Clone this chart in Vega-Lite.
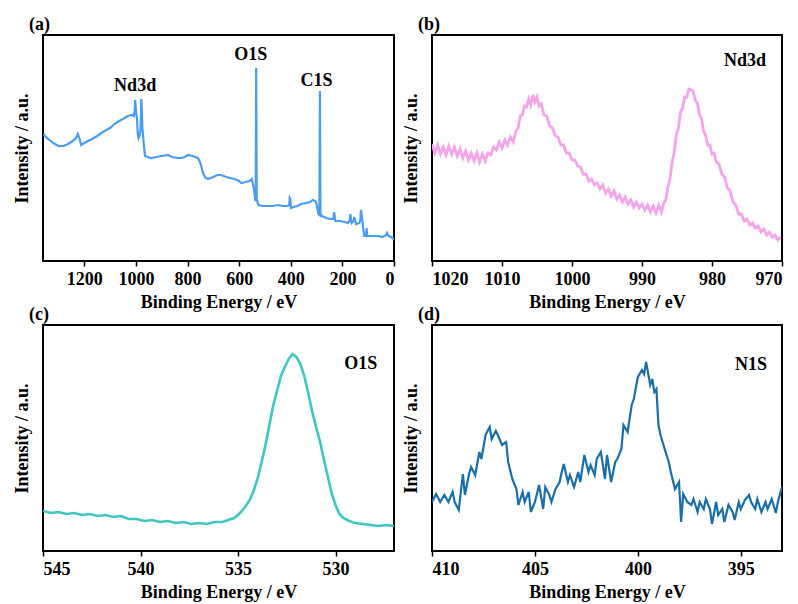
{
  "$schema": "https://vega.github.io/schema/vega-lite/v6.json",
  "padding": {"left": 12, "top": 15, "right": 0, "bottom": 0},
  "background": "white",
  "datasets": {
    "a": [{"E":1358,"I":127},{"E":1352,"I":125},{"E":1340,"I":122},{"E":1320,"I":118},{"E":1300,"I":115},{"E":1280,"I":115},{"E":1263,"I":117},{"E":1245,"I":120},{"E":1232,"I":123},{"E":1225,"I":127},{"E":1218,"I":122},{"E":1212,"I":116},{"E":1200,"I":118},{"E":1186,"I":120},{"E":1170,"I":122},{"E":1150,"I":125},{"E":1134,"I":128},{"E":1115,"I":131},{"E":1100,"I":133},{"E":1083,"I":137},{"E":1065,"I":140},{"E":1050,"I":142},{"E":1031,"I":145},{"E":1015,"I":146},{"E":1008,"I":145},{"E":1005,"I":150},{"E":1003,"I":161},{"E":1000,"I":150},{"E":996,"I":143},{"E":993,"I":128},{"E":990,"I":123},{"E":985,"I":126},{"E":982,"I":132},{"E":980,"I":150},{"E":979,"I":162},{"E":977,"I":150},{"E":975,"I":134},{"E":973,"I":128},{"E":970,"I":118},{"E":966,"I":108},{"E":964,"I":105},{"E":955,"I":104},{"E":941,"I":103},{"E":920,"I":104},{"E":900,"I":105},{"E":876,"I":106},{"E":860,"I":104},{"E":840,"I":103},{"E":825,"I":103},{"E":810,"I":104},{"E":799,"I":106},{"E":780,"I":105},{"E":760,"I":103},{"E":752,"I":99},{"E":747,"I":95},{"E":740,"I":88},{"E":730,"I":83},{"E":721,"I":82},{"E":700,"I":84},{"E":685,"I":86},{"E":670,"I":86},{"E":650,"I":84},{"E":635,"I":83},{"E":618,"I":82},{"E":600,"I":80},{"E":592,"I":78},{"E":575,"I":79},{"E":560,"I":80},{"E":551,"I":82},{"E":546,"I":76},{"E":543,"I":73},{"E":540,"I":67},{"E":538,"I":62},{"E":536,"I":60},{"E":534,"I":193},{"E":532,"I":62},{"E":529,"I":59},{"E":525,"I":56},{"E":510,"I":55},{"E":489,"I":55},{"E":470,"I":55},{"E":450,"I":56},{"E":430,"I":55},{"E":411,"I":55},{"E":406,"I":56},{"E":404,"I":63},{"E":402,"I":62},{"E":399,"I":53},{"E":390,"I":54},{"E":375,"I":55},{"E":360,"I":57},{"E":340,"I":58},{"E":325,"I":59},{"E":315,"I":61},{"E":305,"I":60},{"E":300,"I":57},{"E":295,"I":50},{"E":293,"I":47},{"E":289,"I":46},{"E":287,"I":170},{"E":285,"I":48},{"E":281,"I":45},{"E":270,"I":44},{"E":263,"I":43},{"E":245,"I":42},{"E":235,"I":42},{"E":232,"I":49},{"E":229,"I":43},{"E":227,"I":40},{"E":210,"I":40},{"E":190,"I":39},{"E":179,"I":38},{"E":172,"I":40},{"E":169,"I":47},{"E":166,"I":40},{"E":164,"I":38},{"E":157,"I":40},{"E":154,"I":44},{"E":150,"I":40},{"E":147,"I":37},{"E":135,"I":38},{"E":131,"I":40},{"E":128,"I":51},{"E":125,"I":45},{"E":121,"I":37},{"E":118,"I":30},{"E":115,"I":25},{"E":108,"I":25},{"E":106,"I":33},{"E":104,"I":26},{"E":102,"I":25},{"E":80,"I":25},{"E":60,"I":25},{"E":45,"I":24},{"E":37,"I":25},{"E":30,"I":26},{"E":27,"I":28},{"E":24,"I":26},{"E":20,"I":25},{"E":12,"I":24},{"E":5,"I":23},{"E":0,"I":21}],
    "a_lab": [{"E":1003,"I":175,"t":"Nd3d"},{"E":555,"I":206,"t":"O1S"},{"E":300,"I":180,"t":"C1S"}],
    "b": [{"E":1020.0,"I":117},{"E":1019.6,"I":108},{"E":1019.2,"I":116},{"E":1018.8,"I":107},{"E":1018.4,"I":114},{"E":1018.0,"I":106},{"E":1017.6,"I":115},{"E":1017.2,"I":107},{"E":1016.8,"I":114},{"E":1016.4,"I":105},{"E":1016.0,"I":112},{"E":1015.6,"I":103},{"E":1015.2,"I":110},{"E":1014.8,"I":101},{"E":1014.4,"I":108},{"E":1014.0,"I":100},{"E":1013.6,"I":108},{"E":1013.2,"I":99},{"E":1012.8,"I":107},{"E":1012.4,"I":100},{"E":1012.0,"I":108},{"E":1011.6,"I":106},{"E":1011.2,"I":114},{"E":1010.8,"I":111},{"E":1010.4,"I":119},{"E":1010.0,"I":113},{"E":1009.6,"I":121},{"E":1009.2,"I":116},{"E":1008.8,"I":124},{"E":1008.4,"I":119},{"E":1008.0,"I":130},{"E":1007.7,"I":133},{"E":1007.4,"I":145},{"E":1007.1,"I":146},{"E":1006.8,"I":155},{"E":1006.5,"I":154},{"E":1006.2,"I":162},{"E":1005.9,"I":156},{"E":1005.6,"I":166},{"E":1005.3,"I":159},{"E":1005.0,"I":164},{"E":1004.7,"I":155},{"E":1004.4,"I":157},{"E":1004.0,"I":146},{"E":1003.6,"I":145},{"E":1003.2,"I":135},{"E":1002.8,"I":133},{"E":1002.4,"I":125},{"E":1002.0,"I":124},{"E":1001.6,"I":116},{"E":1001.2,"I":116},{"E":1000.8,"I":108},{"E":1000.4,"I":108},{"E":1000.0,"I":101},{"E":999.6,"I":101},{"E":999.2,"I":95},{"E":998.8,"I":94},{"E":998.4,"I":87},{"E":998.0,"I":87},{"E":997.6,"I":80},{"E":997.2,"I":82},{"E":996.8,"I":76},{"E":996.4,"I":78},{"E":996.0,"I":72},{"E":995.6,"I":76},{"E":995.2,"I":68},{"E":994.8,"I":72},{"E":994.4,"I":65},{"E":994.0,"I":70},{"E":993.6,"I":62},{"E":993.2,"I":66},{"E":992.8,"I":59},{"E":992.4,"I":64},{"E":992.0,"I":57},{"E":991.6,"I":61},{"E":991.2,"I":54},{"E":990.8,"I":59},{"E":990.4,"I":53},{"E":990.0,"I":57},{"E":989.6,"I":51},{"E":989.2,"I":56},{"E":988.8,"I":49},{"E":988.4,"I":55},{"E":988.0,"I":48},{"E":987.6,"I":56},{"E":987.2,"I":49},{"E":986.9,"I":58},{"E":986.6,"I":61},{"E":986.3,"I":74},{"E":986.0,"I":82},{"E":985.7,"I":99},{"E":985.4,"I":108},{"E":985.1,"I":126},{"E":984.8,"I":133},{"E":984.5,"I":149},{"E":984.2,"I":153},{"E":983.9,"I":164},{"E":983.6,"I":164},{"E":983.3,"I":172},{"E":983.0,"I":171},{"E":982.7,"I":170},{"E":982.4,"I":161},{"E":982.1,"I":158},{"E":981.8,"I":147},{"E":981.5,"I":142},{"E":981.2,"I":130},{"E":980.9,"I":125},{"E":980.6,"I":116},{"E":980.3,"I":116},{"E":980.0,"I":107},{"E":979.7,"I":108},{"E":979.4,"I":99},{"E":979.0,"I":97},{"E":978.6,"I":87},{"E":978.2,"I":84},{"E":977.8,"I":73},{"E":977.4,"I":70},{"E":977.0,"I":59},{"E":976.6,"I":56},{"E":976.2,"I":47},{"E":975.8,"I":47},{"E":975.4,"I":40},{"E":975.0,"I":42},{"E":974.6,"I":36},{"E":974.2,"I":38},{"E":973.8,"I":33},{"E":973.4,"I":35},{"E":973.0,"I":29},{"E":972.6,"I":32},{"E":972.2,"I":26},{"E":971.8,"I":29},{"E":971.4,"I":24},{"E":971.0,"I":26},{"E":970.6,"I":21},{"E":970.2,"I":24}],
    "b_lab": [{"E":975.3,"I":200,"t":"Nd3d"}],
    "c": [{"E":545,"I":40},{"E":544.6,"I":38},{"E":544.2,"I":39},{"E":543.8,"I":37},{"E":543.4,"I":38},{"E":543,"I":36},{"E":542.6,"I":37},{"E":542.2,"I":35},{"E":541.8,"I":36},{"E":541.4,"I":34},{"E":541,"I":35},{"E":540.6,"I":32},{"E":540.2,"I":32},{"E":539.8,"I":30},{"E":539.4,"I":31},{"E":539,"I":29},{"E":538.6,"I":30},{"E":538.2,"I":28},{"E":537.8,"I":29},{"E":537.4,"I":27},{"E":537,"I":28},{"E":536.6,"I":27},{"E":536.2,"I":29},{"E":535.8,"I":29},{"E":535.5,"I":31},{"E":535.2,"I":33},{"E":535,"I":36},{"E":534.8,"I":40},{"E":534.6,"I":45},{"E":534.4,"I":51},{"E":534.2,"I":60},{"E":534,"I":72},{"E":533.8,"I":88},{"E":533.6,"I":105},{"E":533.4,"I":125},{"E":533.2,"I":145},{"E":533,"I":160},{"E":532.8,"I":175},{"E":532.6,"I":184},{"E":532.4,"I":192},{"E":532.2,"I":197},{"E":532,"I":194},{"E":531.8,"I":187},{"E":531.6,"I":175},{"E":531.4,"I":158},{"E":531.2,"I":140},{"E":531,"I":124},{"E":530.8,"I":110},{"E":530.6,"I":92},{"E":530.4,"I":75},{"E":530.2,"I":58},{"E":530,"I":46},{"E":529.8,"I":37},{"E":529.6,"I":33},{"E":529.3,"I":30},{"E":529,"I":28},{"E":528.6,"I":27},{"E":528.2,"I":26},{"E":527.8,"I":25},{"E":527.4,"I":26},{"E":527,"I":25}],
    "c_lab": [{"E":528.7,"I":187,"t":"O1S"}],
    "d": [{"E":410.0,"I":49},{"E":409.8,"I":57},{"E":409.6,"I":49},{"E":409.4,"I":56},{"E":409.2,"I":49},{"E":409.0,"I":59},{"E":408.9,"I":49},{"E":408.7,"I":41},{"E":408.5,"I":77},{"E":408.4,"I":56},{"E":408.2,"I":77},{"E":408.1,"I":84},{"E":407.9,"I":76},{"E":407.7,"I":99},{"E":407.6,"I":92},{"E":407.4,"I":116},{"E":407.2,"I":124},{"E":407.1,"I":112},{"E":406.9,"I":120},{"E":406.8,"I":116},{"E":406.6,"I":106},{"E":406.4,"I":109},{"E":406.3,"I":89},{"E":406.1,"I":72},{"E":405.9,"I":62},{"E":405.8,"I":46},{"E":405.6,"I":59},{"E":405.5,"I":49},{"E":405.3,"I":59},{"E":405.2,"I":39},{"E":405.0,"I":49},{"E":404.8,"I":66},{"E":404.6,"I":42},{"E":404.5,"I":64},{"E":404.3,"I":56},{"E":404.2,"I":49},{"E":404.0,"I":62},{"E":403.8,"I":69},{"E":403.7,"I":79},{"E":403.6,"I":87},{"E":403.4,"I":69},{"E":403.3,"I":76},{"E":403.1,"I":64},{"E":402.9,"I":79},{"E":402.8,"I":69},{"E":402.6,"I":96},{"E":402.4,"I":79},{"E":402.3,"I":86},{"E":402.1,"I":76},{"E":402.0,"I":92},{"E":401.8,"I":99},{"E":401.7,"I":86},{"E":401.6,"I":72},{"E":401.5,"I":96},{"E":401.3,"I":69},{"E":401.1,"I":89},{"E":401.0,"I":92},{"E":400.8,"I":102},{"E":400.7,"I":126},{"E":400.5,"I":119},{"E":400.3,"I":146},{"E":400.2,"I":152},{"E":400.0,"I":174},{"E":399.8,"I":181},{"E":399.7,"I":177},{"E":399.6,"I":189},{"E":399.4,"I":166},{"E":399.3,"I":172},{"E":399.2,"I":159},{"E":399.1,"I":162},{"E":399.0,"I":126},{"E":398.9,"I":116},{"E":398.7,"I":102},{"E":398.5,"I":89},{"E":398.4,"I":79},{"E":398.2,"I":62},{"E":398.0,"I":69},{"E":397.9,"I":29},{"E":397.8,"I":57},{"E":397.6,"I":49},{"E":397.4,"I":46},{"E":397.3,"I":52},{"E":397.1,"I":39},{"E":397.0,"I":49},{"E":396.8,"I":42},{"E":396.7,"I":52},{"E":396.5,"I":42},{"E":396.4,"I":27},{"E":396.2,"I":49},{"E":396.1,"I":36},{"E":395.9,"I":42},{"E":395.8,"I":29},{"E":395.6,"I":46},{"E":395.4,"I":39},{"E":395.3,"I":31},{"E":395.1,"I":49},{"E":395.0,"I":42},{"E":394.8,"I":51},{"E":394.6,"I":56},{"E":394.5,"I":49},{"E":394.3,"I":42},{"E":394.2,"I":52},{"E":394.0,"I":39},{"E":393.8,"I":49},{"E":393.7,"I":42},{"E":393.5,"I":52},{"E":393.3,"I":38},{"E":393.2,"I":49},{"E":393.0,"I":64}],
    "d_lab": [{"E":394.5,"I":186,"t":"N1S"}]
  },
  "columns": 2,
  "bounds": "flush",
  "spacing": {"row": 64, "column": 38},
  "concat": [
    {
      "width": 351, "height": 226,
      "title": {"text": "(a)"},
      "layer": [
        {"data": {"name": "a"}, "mark": {"type": "line", "color": "#4a9cf0", "strokeWidth": 2.2, "clip": true},
         "encoding": {
           "x": {"field": "E", "type": "quantitative", "scale": {"domain": [1360, 0], "nice": false, "zero": false}, "axis": {"values": [1200, 1000, 800, 600, 400, 200, 0], "title": "Binding Energy / eV"}},
           "y": {"field": "I", "type": "quantitative", "scale": {"domain": [0, 226], "nice": false, "zero": false}, "axis": {"title": "Intensity / a.u."}}
         }},
        {"data": {"name": "a_lab"}, "mark": {"type": "text", "font": "Liberation Serif", "fontWeight": "bold", "fontSize": 18, "color": "black"},
         "encoding": {"x": {"field": "E", "type": "quantitative"}, "y": {"field": "I", "type": "quantitative"}, "text": {"field": "t"}}}
      ]
    },
    {
      "width": 350, "height": 226,
      "title": {"text": "(b)"},
      "layer": [
        {"data": {"name": "b"}, "mark": {"type": "line", "color": "#f5a3ea", "strokeWidth": 2.8, "clip": true},
         "encoding": {
           "x": {"field": "E", "type": "quantitative", "scale": {"domain": [1020, 970], "nice": false, "zero": false}, "axis": {"values": [1020, 1010, 1000, 990, 980, 970], "title": "Binding Energy / eV"}},
           "y": {"field": "I", "type": "quantitative", "scale": {"domain": [0, 226], "nice": false, "zero": false}, "axis": {"title": "Intensity / a.u."}}
         }},
        {"data": {"name": "b_lab"}, "mark": {"type": "text", "font": "Liberation Serif", "fontWeight": "bold", "fontSize": 18, "color": "black"},
         "encoding": {"x": {"field": "E", "type": "quantitative"}, "y": {"field": "I", "type": "quantitative"}, "text": {"field": "t"}}}
      ]
    },
    {
      "width": 351, "height": 226,
      "title": {"text": "(c)"},
      "layer": [
        {"data": {"name": "c"}, "mark": {"type": "line", "color": "#3ec6c0", "strokeWidth": 2.6, "clip": true},
         "encoding": {
           "x": {"field": "E", "type": "quantitative", "scale": {"domain": [545, 527], "nice": false, "zero": false}, "axis": {"values": [545, 540, 535, 530], "title": "Binding Energy / eV"}},
           "y": {"field": "I", "type": "quantitative", "scale": {"domain": [0, 226], "nice": false, "zero": false}, "axis": {"title": "Intensity / a.u."}}
         }},
        {"data": {"name": "c_lab"}, "mark": {"type": "text", "font": "Liberation Serif", "fontWeight": "bold", "fontSize": 18, "color": "black"},
         "encoding": {"x": {"field": "E", "type": "quantitative"}, "y": {"field": "I", "type": "quantitative"}, "text": {"field": "t"}}}
      ]
    },
    {
      "width": 350, "height": 226,
      "title": {"text": "(d)"},
      "layer": [
        {"data": {"name": "d"}, "mark": {"type": "line", "color": "#1a6fa8", "strokeWidth": 2.2, "clip": true},
         "encoding": {
           "x": {"field": "E", "type": "quantitative", "scale": {"domain": [410, 393], "nice": false, "zero": false}, "axis": {"values": [410, 405, 400, 395], "title": "Binding Energy / eV"}},
           "y": {"field": "I", "type": "quantitative", "scale": {"domain": [0, 226], "nice": false, "zero": false}, "axis": {"title": "Intensity / a.u."}}
         }},
        {"data": {"name": "d_lab"}, "mark": {"type": "text", "font": "Liberation Serif", "fontWeight": "bold", "fontSize": 18, "color": "black"},
         "encoding": {"x": {"field": "E", "type": "quantitative"}, "y": {"field": "I", "type": "quantitative"}, "text": {"field": "t"}}}
      ]
    }
  ],
  "config": {
    "font": "Liberation Serif",
    "view": {"stroke": "black", "strokeWidth": 2},
    "title": {"font": "Liberation Serif", "fontSize": 18, "fontWeight": "bold", "color": "black", "anchor": "start", "frame": "group", "dx": -14, "offset": 1},
    "axis": {
      "labelFont": "Liberation Serif", "labelFontSize": 18, "labelFontWeight": "bold", "labelColor": "black",
      "titleFont": "Liberation Serif", "titleFontSize": 18, "titleFontWeight": "bold", "titleColor": "black",
      "domain": false, "grid": false, "tickColor": "black", "tickWidth": 1.5, "tickSize": 5, "labelPadding": 4, "titlePadding": 5, "format": "d"
    },
    "axisY": {"ticks": false, "labels": false, "titlePadding": 12}
  }
}
